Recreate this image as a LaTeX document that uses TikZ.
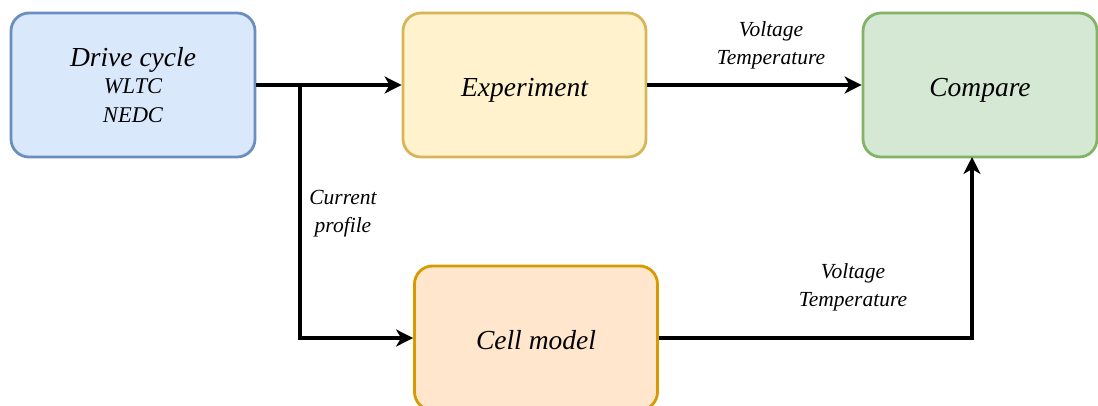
\documentclass[tikz,border=0pt]{standalone}
\usepackage{fontspec}
\setmainfont{Liberation Serif}
\usetikzlibrary{arrows.meta}
\definecolor{driveFill}{HTML}{DAE8FC}
\definecolor{driveLine}{HTML}{6C8EBF}
\definecolor{expFill}{HTML}{FFF2CC}
\definecolor{expLine}{HTML}{D6B656}
\definecolor{cmpFill}{HTML}{D5E8D4}
\definecolor{cmpLine}{HTML}{82B366}
\definecolor{cellFill}{HTML}{FFE6CC}
\definecolor{cellLine}{HTML}{D79B00}
\newcommand{\smalltxt}{\fontsize{22.5}{28}\selectfont}
\begin{document}
\begin{tikzpicture}[x=1pt,y=-1pt,
  box/.style={draw, rounded corners=18pt, line width=2.8pt, inner sep=0pt,
    minimum height=144pt, align=center,
    font=\itshape\fontsize{27.5}{30}\selectfont},
  onebox/.style={box, text height=26pt, text depth=4pt},
  lbl/.style={align=center, inner sep=0pt, font=\itshape\fontsize{21.5}{28}\selectfont},
  flow/.style={line width=3.3pt, -{Stealth[length=17pt,width=17pt,inset=5pt]}}]
  \useasboundingbox (0,0) rectangle (1098,405);

  % process blocks
  \node[box, fill=driveFill, draw=driveLine, minimum width=244pt] (drive) at (133,85)
    {Drive cycle\\[-2.5pt]{\smalltxt WLTC}\\[-1.5pt]{\smalltxt NEDC}};
  \node[onebox, fill=expFill, draw=expLine, minimum width=243pt] (exp) at (524.5,85) {Experiment};
  \node[onebox, fill=cmpFill, draw=cmpLine, minimum width=234pt] (cmp) at (980,85) {Compare};
  \node[onebox, fill=cellFill, draw=cellLine, minimum width=243pt] (cell) at (536,338) {Cell model};

  % connectors
  \coordinate (split) at (300,85);
  \coordinate (rise) at (972,157);
  \draw[flow] (drive.east) -- (exp.west);
  \draw[flow] (split) |- (cell.west);
  \draw[flow] (exp.east) -- (cmp.west);
  \draw[flow] (cell.east) -| (rise);

  % connector labels
  \node[lbl] (vtTop) at (771,45) {Voltage\\Temperature};
  \node[lbl] (vtBot) at (853,287) {Voltage\\Temperature};
  \node[lbl] (cur) at (343,214) {Current\\profile};
\end{tikzpicture}
\end{document}
